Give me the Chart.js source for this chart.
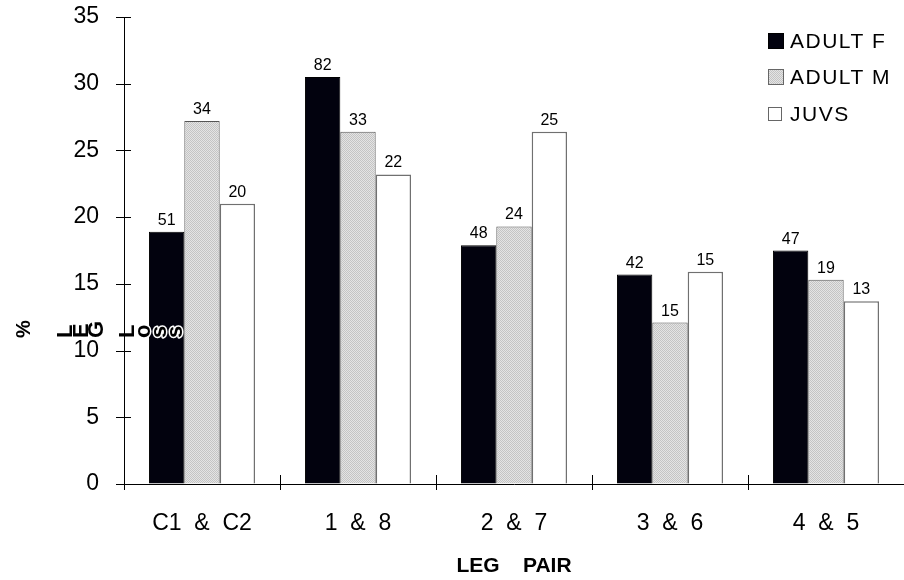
<!DOCTYPE html>
<html>
<head>
<meta charset="utf-8">
<script src="https://cdn.jsdelivr.net/npm/chart.js@4.4.1/dist/chart.umd.min.js"></script>
<style>
  html, body { margin: 0; padding: 0; background: #fff; }
  #wrap { width: 904px; height: 580px; }
</style>
</head>
<body>
<div id="wrap"><canvas id="legChart" width="904" height="580"></canvas></div>
<script>
// leg pairs and % values
const legPairs = ['C1  &  C2', '1  &  8', '2  &  7', '3  &  6', '4  &  5'];
const adultF = [18.9, 30.5, 17.9, 15.7, 17.5];
const adultM = [27.2, 26.4, 19.3, 12.1, 15.3];
const juvs = [21.0, 23.2, 26.4, 15.9, 13.7];
// counts printed above the bars
const adultFN = [51, 82, 48, 42, 47];
const adultMN = [34, 33, 24, 15, 19];
const juvsN = [20, 22, 25, 15, 13];
const seriesNames = ['ADULT F', 'ADULT M', 'JUVS'];
const yMax = 35;
const yStep = 5;

const FONT = '"Liberation Sans", Arial, sans-serif';

// dotted light grey fill like the old print pattern
function makeDots() {
    const c = document.createElement('canvas');
    c.width = 2;
    c.height = 2;
    const g = c.getContext('2d');
    g.fillStyle = '#e4e4e4';
    g.fillRect(0, 0, 2, 2);
    g.fillStyle = '#c4c4c4';
    g.fillRect(0, 0, 1, 1);
    g.fillRect(1, 1, 1, 1);
    return g.createPattern(c, 'repeat');
}
const ctx = document.getElementById('legChart').getContext('2d');
const dots = makeDots();

// ticks that cross the axes; y ticks drawn fully here, x only the inner half
const crossTicks = {
    id: 'crossTicks',
    afterDraw(chart) {
        const c = chart.ctx;
        const x = chart.scales.x, y = chart.scales.y;
        const a = chart.chartArea;
        c.save();
        c.strokeStyle = '#000';
        c.lineWidth = 1;
        c.beginPath();
        y.ticks.forEach(t => {
            const py = Math.round(y.getPixelForValue(t.value)) + 0.5;
            c.moveTo(a.left - 8, py);
            c.lineTo(a.left + 7, py);
        });
        const half = (x.getPixelForValue(1) - x.getPixelForValue(0)) / 2;
        for (let i = 0; i < legPairs.length; i++) {
            const px = Math.round(x.getPixelForValue(i) - half) + 0.5;
            c.moveTo(px, a.bottom);
            c.lineTo(px, a.bottom - 9);
        }
        c.stroke();
        c.restore();
    }
};

// counts on top of each bar
const barCounts = {
    id: 'barCounts',
    afterDatasetsDraw(chart) {
        const c = chart.ctx;
        const counts = [adultFN, adultMN, juvsN];
        c.save();
        c.font = '16px ' + FONT;
        c.fillStyle = '#000';
        c.textAlign = 'center';
        c.textBaseline = 'alphabetic';
        chart.data.datasets.forEach((ds, di) => {
            chart.getDatasetMeta(di).data.forEach((bar, i) => {
                c.fillText(String(counts[di][i]), bar.x, bar.y - 7);
            });
        });
        c.restore();
    }
};

// legend sitting inside the plot, top right
const boxLegend = {
    id: 'boxLegend',
    afterDraw(chart) {
        const c = chart.ctx;
        const ds = chart.data.datasets;
        c.save();
        c.font = '21px ' + FONT;
        c.letterSpacing = '1.5px';
        c.textBaseline = 'middle';
        c.fillStyle = '#000';
        const rows = [41, 77, 114];
        ds.forEach((d, i) => {
            const s = i === 2 ? 14 : 16;
            const bx = 768, by = rows[i] - s / 2;
            c.fillStyle = d.backgroundColor;
            c.fillRect(bx, by, s, s);
            c.strokeStyle = i === 0 ? '#000' : '#666';
            c.lineWidth = 1;
            c.strokeRect(bx + 0.5, by + 0.5, s - 1, s - 1);
            c.fillStyle = '#000';
            c.fillText(d.label, 790, rows[i] + 1);
        });
        c.restore();
    }
};

// y title "%" and the mangled rotated words next to it
const yTitle = {
    id: 'yTitle',
    afterDraw(chart) {
        const c = chart.ctx;
        c.save();
        c.fillStyle = '#000';
        c.font = 'bold 20px ' + FONT;
        c.textAlign = 'center';
        c.textBaseline = 'middle';
        c.translate(24, 329);
        c.rotate(-Math.PI / 2);
        c.fillText('%', 0, 0);
        c.restore();

        const glyphs = [['L', 72], ['E', 88], ['G', 103], ['L', 134], ['o', 150], ['s', 166], ['s', 182]];
        c.save();
        c.font = 'bold 22px ' + FONT;
        c.textAlign = 'left';
        c.textBaseline = 'alphabetic';
        c.lineJoin = 'round';
        glyphs.forEach(([ch, gx]) => {
            c.save();
            c.translate(gx, 338);
            c.rotate(-Math.PI / 2);
            if (gx > 140) {
                c.strokeStyle = '#fff';
                c.lineWidth = 3;
                c.strokeText(ch, 0, 0);
            }
            c.fillStyle = '#000';
            c.fillText(ch, 0, 0);
            c.restore();
        });
        c.restore();
    }
};

new Chart(ctx, {
    type: 'bar',
    data: {
        labels: legPairs,
        datasets: [
            { label: seriesNames[0], data: adultF, backgroundColor: '#02020e', borderColor: '#000', borderWidth: 1 },
            { label: seriesNames[1], data: adultM, backgroundColor: dots, borderColor: '#555', borderWidth: 1 },
            { label: seriesNames[2], data: juvs, backgroundColor: '#ffffff', borderColor: '#707070', borderWidth: 1.5 }
        ]
    },
    options: {
        responsive: false,
        animation: false,
        devicePixelRatio: 1,
        layout: { padding: { top: 17, right: 0, left: 0, bottom: 0 } },
        datasets: { bar: { categoryPercentage: 0.68, barPercentage: 1.0 } },
        scales: {
            x: {
                grid: { offset: true, drawOnChartArea: false, tickLength: 6, color: '#000' },
                border: { color: '#000', width: 1 },
                ticks: { color: '#000', font: { family: FONT, size: 23 }, padding: 20, maxRotation: 0 },
                title: {
                    display: true,
                    text: 'LEG    PAIR',
                    color: '#000',
                    font: { family: FONT, size: 21, weight: 'bold' },
                    padding: { top: 0, bottom: 1 }
                },
                afterFit(scale) { scale.height = 96; }
            },
            y: {
                min: 0,
                max: yMax,
                grid: { drawOnChartArea: false, tickLength: 25, tickColor: 'rgba(0,0,0,0)' },
                border: { color: '#000', width: 1 },
                ticks: { stepSize: yStep, color: '#000', font: { family: FONT, size: 23, lineHeight: 1 }, padding: 0 },
                afterFit(scale) { scale.width = 124; }
            }
        },
        plugins: {
            legend: { display: false },
            tooltip: { enabled: false }
        }
    },
    plugins: [crossTicks, barCounts, boxLegend, yTitle]
});
</script>
</body>
</html>
